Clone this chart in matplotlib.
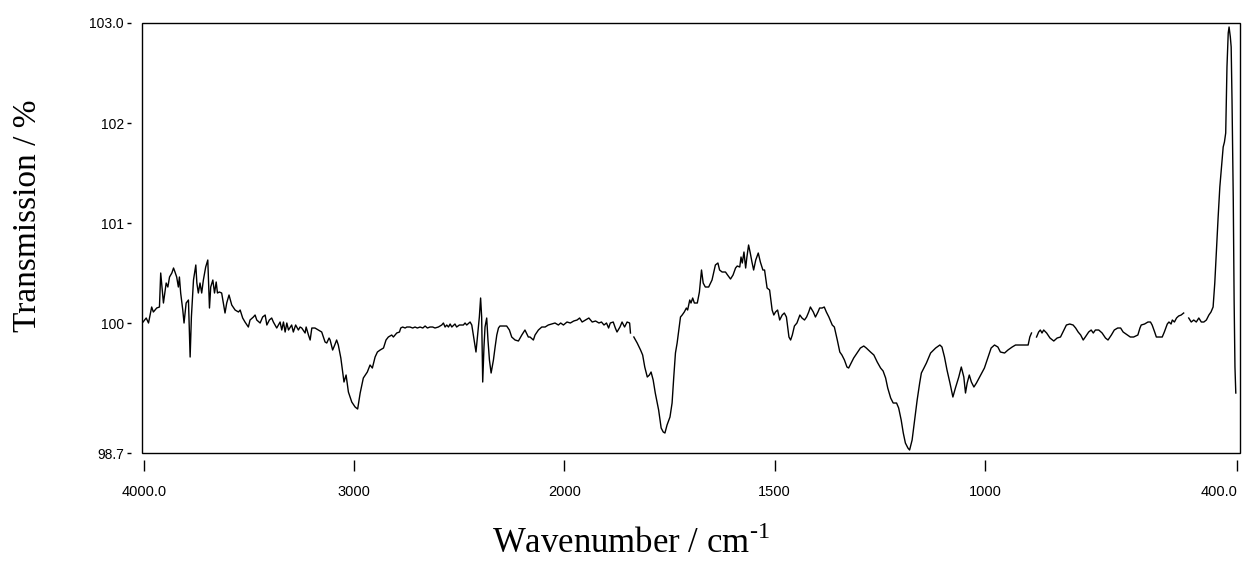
import numpy as np
import matplotlib.pyplot as plt
from matplotlib.patches import Rectangle

# IR spectrum (wavenumber in cm-1, transmission in %)
# nan marks the small breaks in the trace

wn_high = [4005, 3990, 3979, 3964, 3956, 3940, 3927, 3921, 3908, 3895, 3887, 3879,
           3868, 3860, 3853, 3845, 3837, 3832, 3826, 3816, 3810, 3800, 3789, 3781,
           3775, 3765, 3754, 3749, 3742, 3734, 3726, 3718, 3707, 3697, 3689, 3683,
           3673, 3665, 3657, 3651, 3642, 3631, 3615, 3607, 3596, 3583, 3567, 3551,
           3543, 3531, 3520, 3504, 3496, 3480, 3472, 3464, 3448, 3436, 3424, 3416,
           3404, 3393, 3385, 3369, 3353, 3345, 3337, 3329, 3321, 3313, 3298, 3290,
           3279, 3266, 3258, 3250, 3234, 3229, 3218, 3210, 3202, 3187, 3171, 3155,
           3139, 3131, 3120, 3115, 3103, 3093, 3084, 3076, 3064, 3055, 3049, 3039,
           3028, 3012, 2996, 2984, 2972, 2957, 2938, 2925, 2914, 2901, 2890, 2877,
           2861, 2849, 2838, 2822, 2814, 2798, 2785, 2779, 2770, 2758, 2750, 2735,
           2722, 2711, 2700, 2687, 2674, 2663, 2652, 2640, 2627, 2616, 2600, 2584,
           2576, 2568, 2560, 2552, 2544, 2536, 2521, 2513, 2500, 2481, 2473, 2465,
           2449, 2441, 2430, 2421, 2414, 2405, 2399, 2394, 2389, 2383, 2378, 2370,
           2364, 2357, 2349, 2338, 2330, 2322, 2314, 2307, 2275, 2262, 2251, 2235,
           2219, 2203, 2188, 2172]
tr_high = [100.01, 100.05, 100.00, 100.16, 100.11, 100.15, 100.16, 100.50, 100.20, 100.40, 100.36, 100.46,
           100.50, 100.55, 100.51, 100.46, 100.36, 100.46, 100.30, 100.13, 100.00, 100.20, 100.23, 99.66,
           100.06, 100.43, 100.58, 100.40, 100.30, 100.40, 100.30, 100.43, 100.56, 100.63, 100.15, 100.36,
           100.43, 100.30, 100.41, 100.30, 100.31, 100.30, 100.10, 100.20, 100.28, 100.18, 100.13, 100.11,
           100.13, 100.05, 100.01, 99.96, 100.03, 100.06, 100.08, 100.03, 100.00, 100.06, 100.08, 99.98,
           100.03, 100.05, 100.01, 99.95, 100.01, 99.93, 100.01, 99.91, 100.00, 99.93, 99.98, 99.91,
           99.98, 99.93, 99.96, 99.95, 99.90, 99.96, 99.88, 99.83, 99.95, 99.95, 99.93, 99.91,
           99.81, 99.80, 99.85, 99.83, 99.73, 99.78, 99.83, 99.78, 99.65, 99.51, 99.41, 99.48,
           99.31, 99.21, 99.16, 99.14, 99.30, 99.45, 99.51, 99.58, 99.55, 99.66, 99.71, 99.73,
           99.75, 99.83, 99.86, 99.88, 99.86, 99.90, 99.91, 99.95, 99.96, 99.95, 99.96, 99.96,
           99.95, 99.96, 99.95, 99.96, 99.95, 99.97, 99.95, 99.96, 99.96, 99.95, 99.96, 99.98,
           100.00, 99.96, 99.98, 99.96, 99.99, 99.96, 99.99, 99.96, 99.98, 99.98, 100.00, 99.98,
           100.01, 99.98, 99.83, 99.71, 99.86, 100.06, 100.25, 100.06, 99.41, 99.76, 99.96, 100.05,
           99.83, 99.63, 99.50, 99.63, 99.76, 99.88, 99.95, 99.97, 99.97, 99.93, 99.86, 99.83,
           99.82, 99.88, 99.93, 99.86]

wn_mid = [2164, 2148, 2140, 2124, 2108, 2092, 2077, 2061, 2045, 2029, 2018, 2005,
          1994, 1986, 1978, 1970, 1964, 1958, 1950, 1942, 1934, 1926, 1918, 1912,
          1906, 1900, 1895, 1891, 1884, 1879, 1875, 1868, 1863, 1857, 1851, 1845,
          1843, np.nan, 1835, 1827, 1819, 1814, 1809, 1803, 1798, 1794, 1789, 1784,
          1776, 1770, 1765, 1761, 1756, 1749, 1744, 1740, 1736, 1732, 1728, 1724,
          1720, 1715, 1710, 1707, 1702, 1699, 1695, 1691, 1684, 1679, 1674, 1670,
          1665, 1657, 1649, 1641, 1635, 1631, 1625, 1617, 1612, 1605, 1599, 1593,
          1589, 1583, 1580, 1577, 1573, 1569, 1566, 1562, 1558, 1554, 1550, 1545,
          1539, 1534, 1528, 1524, 1518, 1512, 1506, 1502, 1498, 1493, 1488, 1482,
          1477, 1472, 1466, 1462, 1458, 1453, 1447, 1440, 1435, 1429, 1424, 1419,
          1415, 1408, 1403, 1397, 1393, 1387, 1382, 1377, 1371, 1363, 1358, 1351,
          1345, 1340, 1334, 1328, 1324, 1318, 1312, 1304, 1296, 1288, 1282, 1272,
          1264, 1256, 1248, 1242, 1236, 1231, 1224, 1218, 1210, 1205, 1199, 1194,
          1189, 1183, 1179, 1173, 1167, 1161, 1155, 1151, 1145, 1139, 1133, 1129]
tr_mid = [99.86, 99.83, 99.88, 99.93, 99.96, 99.96, 99.98, 99.99, 100.00, 99.98, 100.00, 99.98,
          100.01, 100.00, 100.02, 100.03, 100.05, 100.01, 100.03, 100.05, 100.01, 100.02, 100.00, 100.01,
          99.98, 100.00, 99.95, 100.00, 100.01, 99.95, 99.91, 99.96, 100.01, 99.96, 100.01, 100.00,
          99.90, np.nan, 99.86, 99.80, 99.73, 99.68, 99.56, 99.46, 99.48, 99.51, 99.43, 99.30,
          99.13, 98.95, 98.91, 98.90, 98.98, 99.06, 99.20, 99.46, 99.70, 99.80, 99.93, 100.06,
          100.08, 100.11, 100.15, 100.13, 100.23, 100.20, 100.25, 100.20, 100.20, 100.31, 100.53, 100.40,
          100.36, 100.36, 100.43, 100.58, 100.60, 100.53, 100.51, 100.51, 100.48, 100.44, 100.48, 100.55,
          100.57, 100.56, 100.66, 100.60, 100.71, 100.55, 100.66, 100.78, 100.70, 100.61, 100.53, 100.63,
          100.70, 100.61, 100.53, 100.53, 100.35, 100.33, 100.13, 100.08, 100.11, 100.13, 100.03, 100.08,
          100.10, 100.06, 99.86, 99.83, 99.88, 99.97, 100.00, 100.08, 100.05, 100.03, 100.06, 100.11,
          100.16, 100.11, 100.06, 100.11, 100.15, 100.15, 100.16, 100.11, 100.06, 99.98, 99.96, 99.83,
          99.71, 99.68, 99.63, 99.56, 99.55, 99.60, 99.65, 99.70, 99.75, 99.77, 99.75, 99.71,
          99.68, 99.61, 99.55, 99.52, 99.45, 99.35, 99.25, 99.20, 99.20, 99.15, 99.03, 98.90,
          98.80, 98.75, 98.73, 98.83, 99.03, 99.23, 99.40, 99.50, 99.55, 99.60, 99.66, 99.70]

wn_low = [1117, 1107, 1102, 1096, 1090, 1083, 1076, 1070, 1062, 1056, 1050, 1046,
          1042, 1037, 1032, 1026, 1020, 1010, 1001, 993, 985, 977, 969, 963,
          953, 945, 935, 927, 915, 903, 897, 893, 889, np.nan, 877, 872,
          868, 864, 860, 853, 845, 836, 828, 820, 812, 806, 798, 790,
          784, 778, 772, 766, 761, 753, 747, 742, 737, 729, 721, 713,
          707, 699, 692, 684, 677, 671, 661, 654, 646, 636, 631, 628,
          620, 612, 606, 602, 596, 592, 586, 578, 573, 566, 562, 557,
          554, 549, 544, 539, 533, 527, np.nan, 515, 509, 503, 497, 491,
          485, 479, 473, 467, 462, 457, 453, 449, 445, 441, 437, 433,
          430, 427, 424, 421, 419, 416, 414, 412, 409, 407, 405, 403]
tr_low = [99.75, 99.78, 99.76, 99.66, 99.53, 99.40, 99.26, 99.35, 99.46, 99.56, 99.46, 99.30,
          99.40, 99.48, 99.41, 99.36, 99.40, 99.48, 99.55, 99.65, 99.75, 99.78, 99.76, 99.71,
          99.70, 99.73, 99.76, 99.78, 99.78, 99.78, 99.78, 99.86, 99.90, np.nan, 99.86, 99.91,
          99.93, 99.90, 99.93, 99.90, 99.85, 99.82, 99.85, 99.86, 99.93, 99.98, 99.99, 99.98,
          99.95, 99.91, 99.88, 99.83, 99.86, 99.91, 99.93, 99.90, 99.93, 99.93, 99.90, 99.85,
          99.83, 99.88, 99.93, 99.95, 99.95, 99.91, 99.88, 99.86, 99.86, 99.88, 99.95, 99.98,
          99.99, 100.01, 100.01, 99.98, 99.91, 99.86, 99.86, 99.86, 99.91, 99.99, 100.01, 99.99,
          100.03, 100.01, 100.05, 100.07, 100.08, 100.10, np.nan, 100.05, 100.01, 100.03, 100.01, 100.05,
          100.01, 100.01, 100.03, 100.08, 100.11, 100.16, 100.40, 100.73, 101.06, 101.36, 101.56, 101.76,
          101.81, 101.90, 102.56, 102.90, 102.96, 102.86, 102.76, 102.23, 101.23, 100.23, 99.56, 99.30]

x_ticks = [4000, 3000, 2000, 1500, 1000, 400]
x_ticklabels = ['4000.0', '3000', '2000', '1500', '1000', '400.0']
y_ticks = [98.7, 100, 101, 102, 103.0]
y_ticklabels = ['98.7', '100', '101', '102', '103.0']

wavenumber = np.array(wn_high + wn_mid + wn_low, dtype=float)
transmission = np.array(tr_high + tr_mid + tr_low, dtype=float)


# the spectrometer doubles the scale below 2000 cm-1
def fwd(w):
    w = np.asarray(w, dtype=float)
    return np.where(w >= 2000, w, 2 * w - 2000)


def inv(v):
    v = np.asarray(v, dtype=float)
    return np.where(v >= 2000, v, (v + 2000) / 2)


plt.rcParams['mathtext.fontset'] = 'custom'
plt.rcParams['mathtext.rm'] = 'Liberation Serif'

fig = plt.figure(figsize=(12.5, 5.65), dpi=100)
ax = fig.add_axes([0.1136, 0.1982, 0.8784, 0.7611])

ax.plot(wavenumber, transmission, color='black', linewidth=1.0)

ax.set_xscale('function', functions=(fwd, inv))
ax.set_xlim(4010, 393)
ax.set_ylim(98.7, 103.0)

ax.set_xticks(x_ticks)
ax.set_xticklabels(x_ticklabels)
ax.set_yticks(y_ticks)
ax.set_yticklabels(y_ticklabels)
ax.minorticks_off()

# ticks sit a little away from the frame, like the instrument print
for side in ['left', 'bottom', 'top', 'right']:
    ax.spines[side].set_visible(False)
ax.spines['left'].set_position(('outward', 8))
ax.spines['bottom'].set_position(('outward', 5))
ax.add_patch(Rectangle((0, 0), 1, 1, transform=ax.transAxes, fill=False,
                       edgecolor='black', linewidth=1.0, clip_on=False))

ax.tick_params(axis='x', direction='out', length=8, width=1.0, pad=10,
               labelsize=10.5, labelfontfamily='Liberation Sans')
ax.tick_params(axis='y', direction='out', length=3, width=1.0, pad=2,
               labelsize=10, labelfontfamily='Liberation Sans')

# last label ends at its tick, as on the print
fig.canvas.draw()
ax.xaxis.get_major_ticks()[-1].label1.set_horizontalalignment('right')

fig.text(0.0224, 0.6177, 'Transmission / %', rotation=90, ha='center', va='center',
         fontsize=24, family='Liberation Serif')
fig.text(0.505, 0.0212, 'Wavenumber / cm$^{\\text{-1}}$', ha='center', va='baseline',
         fontsize=25, family='Liberation Serif')

fig.savefig('out.png', dpi=100)
